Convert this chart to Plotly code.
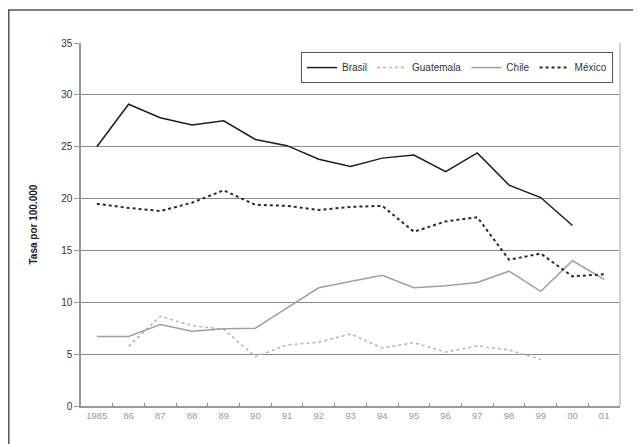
import plotly.graph_objects as go

years = ["1985", "86", "87", "88", "89", "90", "91", "92", "93", "94", "95", "96", "97", "98", "99", "00", "01"]
brasil = [25.0, 29.1, 27.8, 27.1, 27.5, 25.7, 25.1, 23.8, 23.1, 23.9, 24.2, 22.6, 24.4, 21.3, 20.1, 17.4, None]
guatemala = [None, 5.75, 8.65, 7.75, 7.4, 4.75, 5.9, 6.15, 6.95, 5.6, 6.1, 5.2, 5.8, 5.4, 4.5, None, None]
chile = [6.7, 6.7, 7.85, 7.2, 7.45, 7.5, 9.45, 11.4, 12.0, 12.6, 11.4, 11.6, 11.9, 13.0, 11.05, 14.0, 12.2]
mexico = [19.5, 19.1, 18.8, 19.6, 20.8, 19.4, 19.3, 18.9, 19.2, 19.3, 16.8, 17.8, 18.2, 14.1, 14.7, 12.5, 12.7]
y_ticks = [0, 5, 10, 15, 20, 25, 30, 35]

FONT = "Liberation Sans, Arial, sans-serif"

fig = go.Figure()
fig.add_trace(go.Scatter(x=years, y=brasil, name="Brasil", mode="lines",
                         line=dict(color="#1e1e1e", width=1.5)))
fig.add_trace(go.Scatter(x=years, y=guatemala, name="Guatemala", mode="lines",
                         line=dict(color="#b4b4b4", width=1.5, dash="dot")))
fig.add_trace(go.Scatter(x=years, y=chile, name="Chile", mode="lines",
                         line=dict(color="#a0a0a0", width=1.5)))
fig.add_trace(go.Scatter(x=years, y=mexico, name="México", mode="lines",
                         line=dict(color="#2a2a2a", width=2, dash="dot")))

fig.update_layout(
    width=641, height=444,
    margin=dict(l=73, r=29, t=35, b=45.5),
    paper_bgcolor="white", plot_bgcolor="white",
    font=dict(family=FONT, size=9, color="#333"),
    showlegend=True,
    legend=dict(orientation="h", x=0.987, xanchor="right", y=0.975, yanchor="top",
                bordercolor="#555", borderwidth=1, bgcolor="white",
                font=dict(family=FONT, size=10, color="#333"),
                itemwidth=30, tracegroupgap=0),
    xaxis=dict(type="category", categoryorder="array", categoryarray=years,
               tickson="boundaries", ticks="inside", ticklen=3, tickcolor="#888",
               showline=True, linecolor="#999", linewidth=1.5, mirror=False,
               showgrid=False, tickfont=dict(family=FONT, size=9.5, color="#999"),
               range=[-0.5, 16.5]),
    yaxis=dict(range=[0, 35], tickvals=y_ticks, ticks="outside", ticklen=5, tickcolor="#999",
               showline=True, linecolor="#999", linewidth=1.5,
               showgrid=True, gridcolor="#8a8a8a", gridwidth=1, zeroline=False,
               tickfont=dict(family=FONT, size=10, color="#333"), ticksuffix="   "),
)

# right plot-area border
fig.add_shape(type="line", xref="paper", yref="paper", x0=1, x1=1, y0=0, y1=1,
              line=dict(color="#d0d0d0", width=2))
# outer frame
fig.add_shape(type="rect", xref="paper", yref="paper", x0=-0.134, x1=1.3, y0=-0.3, y1=1.0908,
              line=dict(color="#555", width=1.5))

fig.add_annotation(text="<b>Tasa por 100.000</b>", xref="paper", yref="paper",
                   x=-0.089, y=0.5, xanchor="center", yanchor="middle",
                   textangle=-90, showarrow=False,
                   font=dict(family=FONT, size=10, color="#222"))

fig.write_html("out.html")
